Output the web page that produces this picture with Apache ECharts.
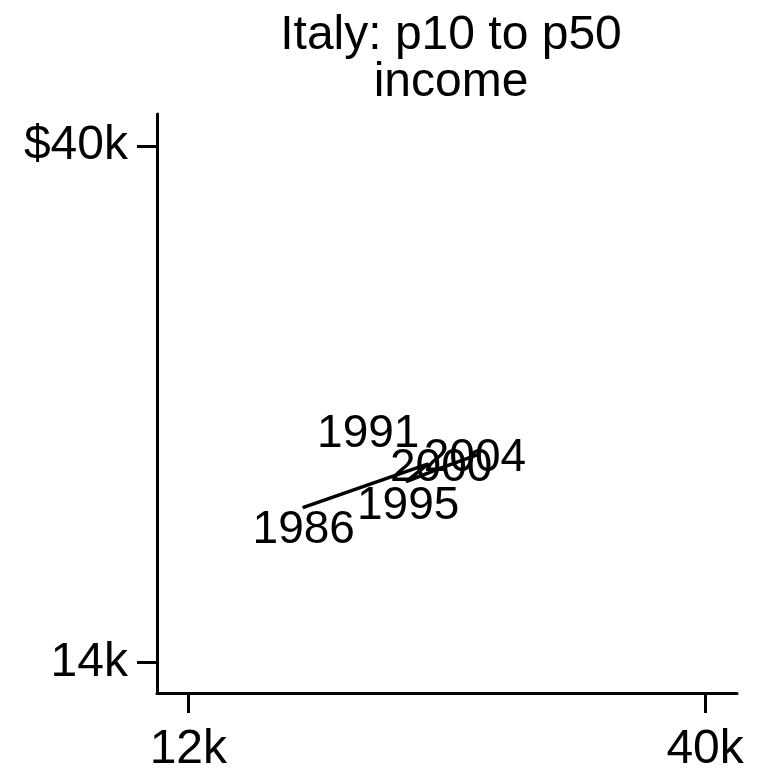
<!DOCTYPE html>
<html>
<head>
<meta charset="utf-8">
<title>Italy: p10 to p50 income</title>
<script src="https://cdn.jsdelivr.net/npm/echarts@6/dist/echarts.min.js"></script>
<style>
  html, body { margin: 0; padding: 0; background: #ffffff; }
  #chart { width: 766px; height: 774px; }
</style>
</head>
<body>
<div id="chart"></div>
<script>
// Survey years and the matching income percentiles (thousands of dollars)
const years = ['1986', '1991', '1995', '2000', '2004'];
const p10Income = [18.2, 25.0, 23.8, 25.7, 27.8];
const p50Income = [21.8, 24.0, 23.1, 23.8, 24.5];

// Axis ticks
const xTickValues = [12, 40];
const xTickLabels = ['12k', '40k'];
const yTickValues = [14, 40];
const yTickLabels = ['14k', '$40k'];

// Where each year label sits relative to its point (pixel offsets)
const labelOffsets = {
  '1986': [1, 23],
  '1991': [-60, -30],
  '1995': [2, 25],
  '2000': [0, 0],
  '2004': [-5, 4]
};

const FONT = '"Liberation Sans", Arial, Helvetica, sans-serif';

const points = years.map((yr, i) => [p10Income[i], p50Income[i]]);

const chart = echarts.init(document.getElementById('chart'), null, { renderer: 'canvas' });

chart.setOption({
  backgroundColor: '#ffffff',
  animation: false,
  title: {
    text: 'Italy: p10 to p50\nincome',
    left: 446,
    top: 7,
    textAlign: 'center',
    textStyle: {
      fontFamily: FONT,
      fontSize: 48,
      fontWeight: 'normal',
      color: '#000000',
      lineHeight: 47
    }
  },
  grid: {
    left: 157,
    top: 114,
    width: 580,
    height: 579,
    containLabel: false
  },
  xAxis: {
    type: 'value',
    min: 10.30,
    max: 41.73,
    splitLine: { show: false },
    axisLine: { show: true, onZero: false, lineStyle: { color: '#000000', width: 3 } },
    axisTick: {
      show: true,
      inside: false,
      length: 20,
      customValues: xTickValues,
      lineStyle: { color: '#000000', width: 3 }
    },
    axisLabel: {
      show: true,
      margin: 33,
      customValues: xTickValues,
      formatter: v => xTickLabels[xTickValues.indexOf(v)] || '',
      fontFamily: FONT,
      fontSize: 48,
      color: '#000000'
    }
  },
  yAxis: {
    type: 'value',
    min: 12.465,
    max: 41.61,
    splitLine: { show: false },
    axisLine: { show: true, onZero: false, lineStyle: { color: '#000000', width: 3 } },
    axisTick: {
      show: true,
      inside: false,
      length: 20,
      customValues: yTickValues,
      lineStyle: { color: '#000000', width: 3 }
    },
    axisLabel: {
      show: true,
      margin: 29,
      customValues: yTickValues,
      formatter: v => yTickLabels[yTickValues.indexOf(v)] || '',
      fontFamily: FONT,
      fontSize: 48,
      color: '#000000'
    }
  },
  series: [{
    type: 'line',
    data: points,
    showSymbol: true,
    symbol: 'circle',
    symbolSize: 1,
    lineStyle: { color: '#000000', width: 3.5 },
    itemStyle: { color: '#000000' },
    label: {
      show: true,
      position: 'inside',
      formatter: p => years[p.dataIndex],
      fontFamily: FONT,
      fontSize: 46,
      color: '#000000'
    },
    labelLayout: params => {
      const off = labelOffsets[years[params.dataIndex]] || [0, 0];
      return { dx: off[0], dy: off[1], hideOverlap: false };
    },
    emphasis: { disabled: true }
  }]
});
</script>
</body>
</html>
